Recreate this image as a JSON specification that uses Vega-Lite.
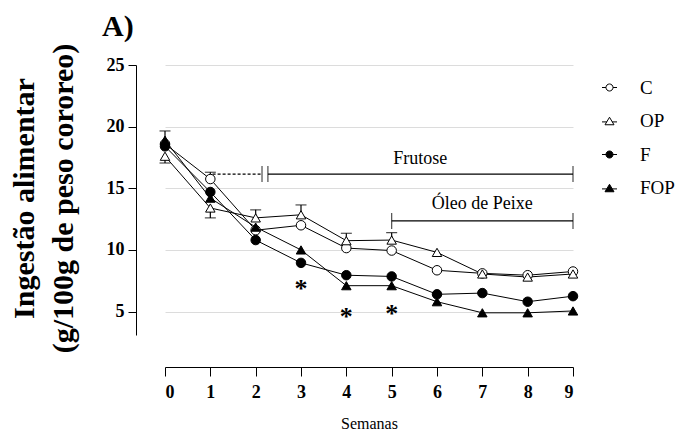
{
  "$schema": "https://vega.github.io/schema/vega-lite/v6.json",
  "width": 439,
  "height": 270,
  "autosize": {"type": "none"},
  "padding": {"left": 136, "top": 65, "right": 121, "bottom": 100},
  "background": "white",
  "config": {
    "font": "Liberation Serif",
    "view": {"stroke": null},
    "axisY": {
      "grid": true,
      "gridColor": "#dcdcdc",
      "gridWidth": 1,
      "domainColor": "black",
      "domainWidth": 1,
      "tickColor": "black",
      "tickSize": 8,
      "labelFont": "Liberation Serif",
      "labelFontSize": 18,
      "labelFontWeight": "bold",
      "labelColor": "black",
      "labelPadding": 4,
      "titleFont": "Liberation Serif",
      "titleFontSize": 30,
      "titleFontWeight": "bold",
      "titleColor": "black",
      "titleLineHeight": 39,
      "titleAngle": -90,
      "titleX": -103,
      "titleY": 133,
      "titleAlign": "center",
      "titleBaseline": "alphabetic"
    },
    "axisX": {
      "grid": false,
      "offset": 32,
      "domainColor": "black",
      "tickColor": "black",
      "tickSize": 9,
      "labelFont": "Liberation Serif",
      "labelFontSize": 18,
      "labelFontWeight": "bold",
      "labelColor": "black",
      "labelPadding": 7,
      "titleFont": "Liberation Serif",
      "titleFontSize": 16,
      "titleFontWeight": "normal",
      "titleColor": "black",
      "titlePadding": 14
    }
  },
  "title": {
    "text": "A)",
    "anchor": "start",
    "frame": "group",
    "dx": -34,
    "dy": 21,
    "offset": 22,
    "font": "Liberation Serif",
    "fontSize": 30,
    "fontWeight": "bold",
    "color": "black"
  },
  "resolve": {"scale": {"shape": "independent", "fill": "independent"}},
  "datasets": {
    "means": [
      {"g": "C", "w": 0, "v": 18.6}, {"g": "C", "w": 1, "v": 15.75}, {"g": "C", "w": 2, "v": 11.6}, {"g": "C", "w": 3, "v": 12.0}, {"g": "C", "w": 4, "v": 10.15},
      {"g": "C", "w": 5, "v": 9.95}, {"g": "C", "w": 6, "v": 8.35}, {"g": "C", "w": 7, "v": 8.1}, {"g": "C", "w": 8, "v": 7.95}, {"g": "C", "w": 9, "v": 8.25},
      {"g": "OP", "w": 0, "v": 17.6}, {"g": "OP", "w": 1, "v": 13.4}, {"g": "OP", "w": 2, "v": 12.6}, {"g": "OP", "w": 3, "v": 12.85}, {"g": "OP", "w": 4, "v": 10.75},
      {"g": "OP", "w": 5, "v": 10.8}, {"g": "OP", "w": 6, "v": 9.8}, {"g": "OP", "w": 7, "v": 8.05}, {"g": "OP", "w": 8, "v": 7.8}, {"g": "OP", "w": 9, "v": 8.05},
      {"g": "F", "w": 0, "v": 18.4}, {"g": "F", "w": 1, "v": 14.7}, {"g": "F", "w": 2, "v": 10.8}, {"g": "F", "w": 3, "v": 8.95}, {"g": "F", "w": 4, "v": 7.95},
      {"g": "F", "w": 5, "v": 7.85}, {"g": "F", "w": 6, "v": 6.4}, {"g": "F", "w": 7, "v": 6.5}, {"g": "F", "w": 8, "v": 5.8}, {"g": "F", "w": 9, "v": 6.25},
      {"g": "FOP", "w": 0, "v": 18.9}, {"g": "FOP", "w": 1, "v": 14.2}, {"g": "FOP", "w": 2, "v": 11.85}, {"g": "FOP", "w": 3, "v": 10.0}, {"g": "FOP", "w": 4, "v": 7.1},
      {"g": "FOP", "w": 5, "v": 7.1}, {"g": "FOP", "w": 6, "v": 5.8}, {"g": "FOP", "w": 7, "v": 4.9}, {"g": "FOP", "w": 8, "v": 4.9}, {"g": "FOP", "w": 9, "v": 5.05}
    ],
    "err": [
      {"g": "C", "w": 0, "v": 18.6, "e": 19.65},
      {"g": "OP", "w": 0, "v": 17.6, "e": 17.05},
      {"g": "C", "w": 1, "v": 15.75, "e": 16.3},
      {"g": "OP", "w": 1, "v": 13.4, "e": 12.6},
      {"g": "OP", "w": 2, "v": 12.6, "e": 13.25},
      {"g": "OP", "w": 3, "v": 12.85, "e": 13.65},
      {"g": "OP", "w": 4, "v": 10.75, "e": 11.35},
      {"g": "OP", "w": 5, "v": 10.8, "e": 11.4}
    ],
    "solidLines": [
      {"w": 2.27, "w2": 9, "v": 16.15},
      {"w": 5, "w2": 9, "v": 12.35}
    ],
    "dashedLines": [
      {"w": 1.05, "w2": 2.13, "v": 16.15}
    ],
    "caps": [
      {"w": 2.14, "v": 16.15}, {"w": 2.27, "v": 16.15}, {"w": 9, "v": 16.15},
      {"w": 5, "v": 12.35}, {"w": 9, "v": 12.35}
    ],
    "labels": [
      {"w": 5.63, "v": 17.4, "t": "Frutose"},
      {"w": 7.0, "v": 13.75, "t": "Óleo de Peixe"}
    ],
    "stars": [
      {"w": 3, "v": 7.15}, {"w": 4, "v": 4.9}, {"w": 5, "v": 5.1}
    ]
  },
  "layer": [
    {
      "data": {"name": "means"},
      "mark": {"type": "line", "color": "black", "strokeWidth": 1},
      "encoding": {
        "x": {"field": "w", "type": "quantitative", "title": "Semanas", "scale": {"domain": [0, 9], "range": [29, 437], "nice": false, "zero": false}, "axis": {"values": [0, 1, 2, 3, 4, 5, 6, 7, 8, 9]}},
        "y": {"field": "v", "type": "quantitative", "title": ["Ingestão alimentar", "(g/100g de peso cororeo)"], "scale": {"domain": [3.1, 25], "nice": false, "zero": false}, "axis": {"values": [5, 10, 15, 20, 25]}},
        "detail": {"field": "g"}
      }
    },
    {
      "data": {"name": "err"},
      "mark": {"type": "rule", "color": "black", "strokeWidth": 1.2},
      "encoding": {
        "x": {"field": "w", "type": "quantitative", "title": "Semanas"},
        "y": {"field": "v", "type": "quantitative", "title": ["Ingestão alimentar", "(g/100g de peso cororeo)"]},
        "y2": {"field": "e"}
      }
    },
    {
      "data": {"name": "err"},
      "mark": {"type": "tick", "orient": "horizontal", "color": "black", "size": 11, "thickness": 1.2},
      "encoding": {
        "x": {"field": "w", "type": "quantitative", "title": "Semanas"},
        "y": {"field": "e", "type": "quantitative", "title": ["Ingestão alimentar", "(g/100g de peso cororeo)"]}
      }
    },
    {
      "data": {"name": "means"},
      "mark": {"type": "point", "stroke": "black", "strokeWidth": 1, "opacity": 1, "size": 90},
      "encoding": {
        "x": {"field": "w", "type": "quantitative", "title": "Semanas"},
        "y": {"field": "v", "type": "quantitative", "title": ["Ingestão alimentar", "(g/100g de peso cororeo)"]},
        "shape": {
          "field": "g", "type": "nominal", "legend": null,
          "scale": {"domain": ["C", "OP", "F", "FOP"], "range": ["circle", "triangle-up", "circle", "triangle-up"]}
        },
        "fill": {
          "field": "g", "type": "nominal", "legend": null,
          "scale": {"domain": ["C", "OP", "F", "FOP"], "range": ["white", "white", "black", "black"]}
        }
      }
    },
    {
      "data": {"name": "means"},
      "transform": [{"filter": "datum.w < 0"}],
      "mark": {"type": "point", "stroke": "black", "strokeWidth": 1, "opacity": 1, "size": 225},
      "encoding": {
        "x": {"field": "w", "type": "quantitative", "title": "Semanas"},
        "y": {"field": "v", "type": "quantitative", "title": ["Ingestão alimentar", "(g/100g de peso cororeo)"]},
        "stroke": {"value": "black"},
        "shape": {
          "field": "g", "type": "nominal",
          "scale": {"domain": ["C", "OP", "F", "FOP"], "range": [
            "M-1,0H-0.47A0.47,0.47,0,1,1,0.47,0A0.47,0.47,0,1,1,-0.47,0M0.47,0H1",
            "M-1,0.12H-0.35M0.35,0.12H1M0,-0.5L0.6,0.5L-0.6,0.5Z",
            "M-1,0H-0.47A0.47,0.47,0,1,1,0.47,0A0.47,0.47,0,1,1,-0.47,0M0.47,0H1",
            "M-1,0.12H-0.35M0.35,0.12H1M0,-0.5L0.6,0.5L-0.6,0.5Z"
          ]},
          "legend": {
            "title": null,
            "orient": "none",
            "legendX": 464,
            "legendY": 13,
            "padding": 0,
            "symbolSize": 225,
            "symbolStrokeWidth": 1,
            "symbolStrokeColor": "black",
            "symbolOpacity": 1,
            "labelFont": "Liberation Serif",
            "labelFontSize": 19,
            "labelColor": "black",
            "labelOffset": 21,
            "rowPadding": 13.5,
            "encode": {"symbols": {"update": {"stroke": {"value": "black"}, "strokeWidth": {"value": 1}}}}
          }
        },
        "fill": {
          "field": "g", "type": "nominal",
          "scale": {"domain": ["C", "OP", "F", "FOP"], "range": ["white", "white", "black", "black"]},
          "legend": {
            "title": null,
            "orient": "none",
            "legendX": 464,
            "legendY": 13,
            "padding": 0,
            "symbolSize": 225,
            "symbolStrokeWidth": 1,
            "symbolStrokeColor": "black",
            "symbolOpacity": 1,
            "labelFont": "Liberation Serif",
            "labelFontSize": 19,
            "labelColor": "black",
            "labelOffset": 21,
            "rowPadding": 13.5,
            "encode": {"symbols": {"update": {"stroke": {"value": "black"}, "strokeWidth": {"value": 1}}}}
          }
        }
      }
    },
    {
      "data": {"name": "solidLines"},
      "mark": {"type": "rule", "color": "black", "strokeWidth": 1.2},
      "encoding": {
        "x": {"field": "w", "type": "quantitative", "title": "Semanas"},
        "x2": {"field": "w2"},
        "y": {"field": "v", "type": "quantitative", "title": ["Ingestão alimentar", "(g/100g de peso cororeo)"]}
      }
    },
    {
      "data": {"name": "dashedLines"},
      "mark": {"type": "rule", "color": "black", "strokeWidth": 1.2, "strokeDash": [3, 2]},
      "encoding": {
        "x": {"field": "w", "type": "quantitative", "title": "Semanas"},
        "x2": {"field": "w2"},
        "y": {"field": "v", "type": "quantitative", "title": ["Ingestão alimentar", "(g/100g de peso cororeo)"]}
      }
    },
    {
      "data": {"name": "caps"},
      "mark": {"type": "tick", "orient": "vertical", "color": "black", "size": 16, "thickness": 1.2},
      "encoding": {
        "x": {"field": "w", "type": "quantitative", "title": "Semanas"},
        "y": {"field": "v", "type": "quantitative", "title": ["Ingestão alimentar", "(g/100g de peso cororeo)"]}
      }
    },
    {
      "data": {"name": "labels"},
      "mark": {"type": "text", "font": "Liberation Serif", "fontSize": 18, "fontWeight": "normal", "color": "black", "align": "center", "baseline": "middle"},
      "encoding": {
        "x": {"field": "w", "type": "quantitative", "title": "Semanas"},
        "y": {"field": "v", "type": "quantitative", "title": ["Ingestão alimentar", "(g/100g de peso cororeo)"]},
        "text": {"field": "t"}
      }
    },
    {
      "data": {"name": "stars"},
      "mark": {"type": "text", "text": "*", "font": "Liberation Serif", "fontSize": 26, "fontWeight": "bold", "color": "black", "align": "center", "baseline": "alphabetic", "dy": 12},
      "encoding": {
        "x": {"field": "w", "type": "quantitative", "title": "Semanas"},
        "y": {"field": "v", "type": "quantitative", "title": ["Ingestão alimentar", "(g/100g de peso cororeo)"]}
      }
    }
  ]
}
